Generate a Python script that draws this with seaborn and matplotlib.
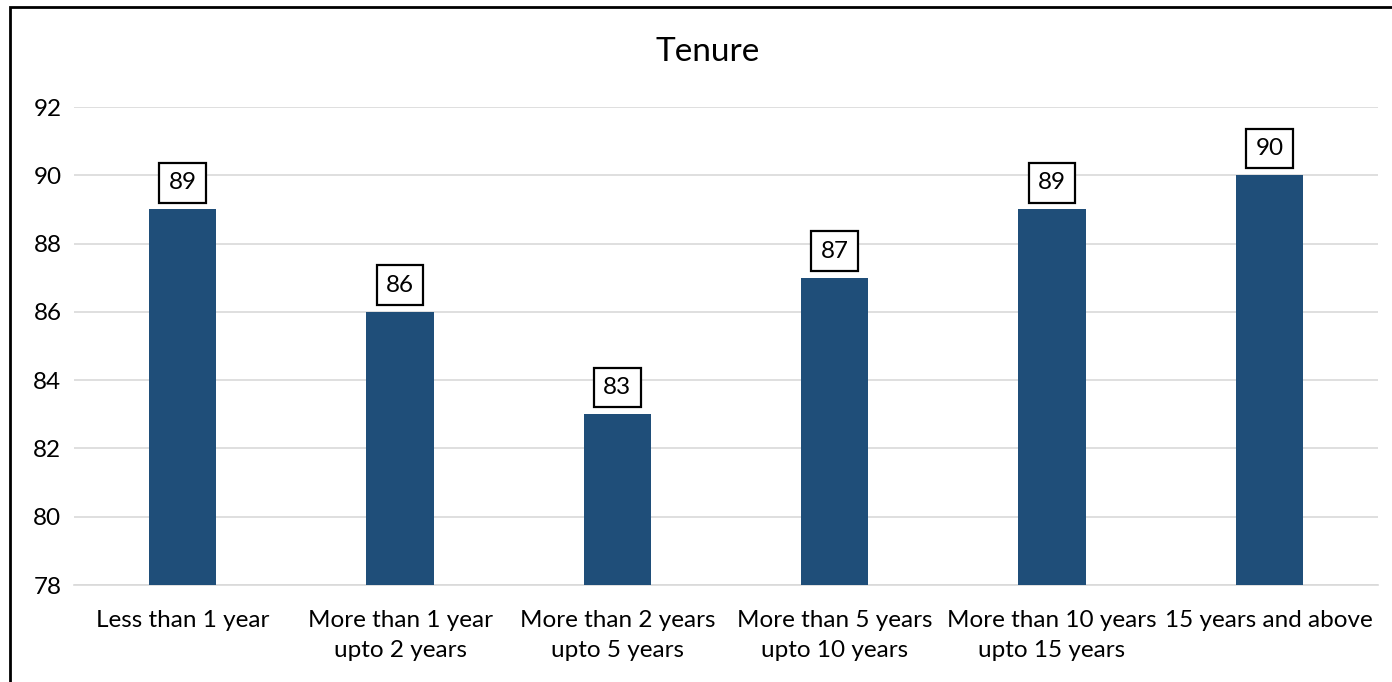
import matplotlib
matplotlib.use("Agg")
import matplotlib.pyplot as plt
from matplotlib.patches import Rectangle
import seaborn as sns
import pandas as pd

categories = [
    "Less than 1 year",
    "More than 1 year\nupto 2 years",
    "More than 2 years\nupto 5 years",
    "More than 5 years\nupto 10 years",
    "More than 10 years\nupto 15 years",
    "15 years and above",
]
scores = [89, 86, 83, 87, 89, 90]
y_ticks = [78, 80, 82, 84, 86, 88, 90, 92]

sns.set_theme(style="white")
plt.rcParams["font.family"] = ["Lato", "DejaVu Sans"]

df = pd.DataFrame({"Tenure": categories, "Score": scores})

fig = plt.figure(figsize=(13.92, 6.82), dpi=100)
ax = fig.add_axes([74 / 1392, 1 - 585 / 682, (1378 - 74) / 1392, (585 - 107) / 682])

sns.barplot(data=df, x="Tenure", y="Score", color="#1f4e79", width=0.31,
            saturation=1, ax=ax, zorder=3, linewidth=0)

ax.set_ylim(78, 92)
ax.set_yticks(y_ticks)
ax.set_xlim(-0.5, len(categories) - 0.5)
ax.yaxis.grid(True, color="#d9d9d9", linewidth=1.2, zorder=0)
ax.set_axisbelow(True)
for side in ["top", "right", "left"]:
    ax.spines[side].set_visible(False)
ax.spines["bottom"].set_color("#d9d9d9")
ax.spines["bottom"].set_linewidth(1.2)
ax.tick_params(axis="both", length=0, labelsize=17.5, colors="black")
ax.tick_params(axis="y", pad=9)
ax.tick_params(axis="x", pad=18)
ax.set_xlabel("")
ax.set_ylabel("")
for lbl in ax.get_xticklabels():
    lbl.set_linespacing(1.55)

for i, v in enumerate(scores):
    ax.text(i, v + 0.78, f"{v}", ha="center", va="center", fontsize=17.5,
            color="black", zorder=5,
            bbox=dict(boxstyle="square,pad=0.38", facecolor="white",
                      edgecolor="black", linewidth=1.6))

fig.text(708 / 1392, 1 - 52 / 682, "Tenure", ha="center", va="center",
         fontsize=24, color="black")

# chart frame
fig.patches.append(Rectangle((10 / 1392, -0.1), 1.2, 1 - 7 / 682 + 0.1,
                             transform=fig.transFigure, fill=False,
                             edgecolor="black", linewidth=2, clip_on=False))

fig.savefig("out.png", dpi=100, facecolor="white")
